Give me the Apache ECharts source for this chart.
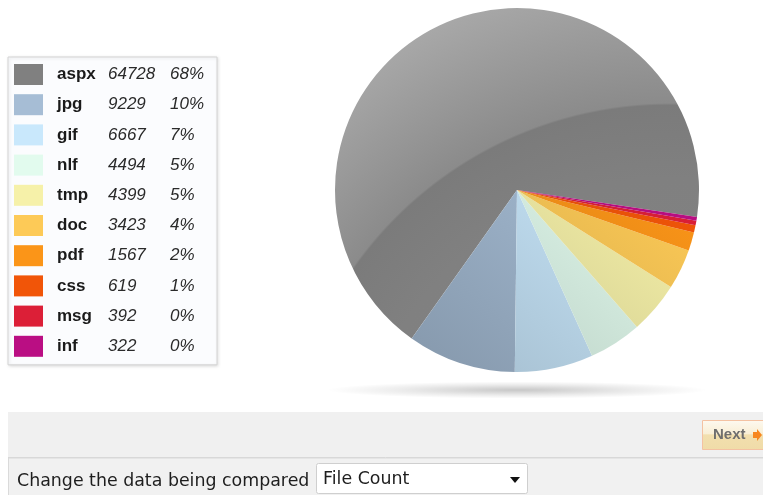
<!DOCTYPE html>
<html>
<head>
<meta charset="utf-8">
<script src="https://cdn.jsdelivr.net/npm/echarts@6/dist/echarts.min.js"></script>
<style>
  html, body { margin: 0; padding: 0; background: #ffffff; }
  #chart { width: 763px; height: 495px; }
</style>
</head>
<body>
<div id="chart"></div>
<script>
// File types and how many files of each type were found
const categories = ['aspx', 'jpg', 'gif', 'nlf', 'tmp', 'doc', 'pdf', 'css', 'msg', 'inf'];
const fileCounts = [64728, 9229, 6667, 4494, 4399, 3423, 1567, 619, 392, 322];
const sliceColors = ['#808080', '#a6bdd5', '#c9e8fc', '#e2fbee', '#f6f1a9', '#fdca57', '#fb9518', '#f15508', '#dc1f37', '#ba0e83'];

const total = fileCounts.reduce((a, b) => a + b, 0);
const CX = 517, CY = 190, R = 182;

function shade(hex, f) {
  const n = parseInt(hex.slice(1), 16);
  const r = (n >> 16) & 255, g = (n >> 8) & 255, b = n & 255;
  return 'rgb(' + Math.round(r * f) + ',' + Math.round(g * f) + ',' + Math.round(b * f) + ')';
}

// Glossy fill: the big slice gets a curved highlight band, the others darken toward the lower left
function sliceFill(i) {
  if (i === 0) {
    return {
      type: 'radial', x: CX + 152, y: CY + 300, r: 520, global: true,
      colorStops: [
        { offset: 0, color: '#848484' },
        { offset: 0.6, color: '#808080' },
        { offset: 0.740, color: '#7b7b7b' },
        { offset: 0.744, color: '#8b8b8b' },
        { offset: 1, color: '#a8a8a8' }
      ]
    };
  }
  const c = sliceColors[i];
  return {
    type: 'linear', x: CX + 123, y: CY - 40, x2: CX - 67, y2: CY + R, global: true,
    colorStops: [{ offset: 0, color: c }, { offset: 1, color: shade(c, 0.82) }]
  };
}

const chart = echarts.init(document.getElementById('chart'), null, { renderer: 'canvas' });

const legendFont = '"Liberation Sans", Arial, sans-serif';
const uiFont = '"DejaVu Sans", Verdana, sans-serif';

chart.setOption({
  animation: false,
  backgroundColor: '#ffffff',
  legend: {
    orient: 'vertical',
    left: 8,
    top: 57,
    padding: [7, 13, 8, 6],
    itemWidth: 29,
    itemHeight: 21,
    itemGap: 9.2,
    icon: 'rect',
    selectedMode: false,
    backgroundColor: '#fbfcfe',
    borderColor: '#d4d4d4',
    borderWidth: 1,
    shadowBlur: 3,
    shadowColor: 'rgba(0,0,0,0.12)',
    shadowOffsetX: 1,
    shadowOffsetY: 1,
    data: categories.map((n, i) => ({ name: n, itemStyle: { color: sliceColors[i], borderWidth: 0 } })),
    formatter: function (name) {
      const i = categories.indexOf(name);
      const pct = Math.round(fileCounts[i] / total * 100);
      return '{n|' + name + '}{v|' + fileCounts[i] + '}{p|' + pct + '%}';
    },
    textStyle: {
      fontFamily: legendFont,
      fontSize: 17,
      color: '#222222',
      rich: {
        n: { fontFamily: legendFont, fontSize: 17, fontWeight: 'bold', color: '#1a1a1a', width: 51, padding: [0, 0, 0, 9] },
        v: { fontFamily: legendFont, fontSize: 17, fontStyle: 'italic', color: '#2a2a2a', width: 62 },
        p: { fontFamily: legendFont, fontSize: 17, fontStyle: 'italic', color: '#2a2a2a', width: 35 }
      }
    }
  },
  graphic: [
    // soft shadow under the pie
    {
      type: 'circle', silent: true, z: 0,
      x: CX, y: CY + R + 18, scaleY: 0.045,
      shape: { cx: 0, cy: 0, r: 190 },
      style: {
        fill: {
          type: 'radial', x: 0.5, y: 0.5, r: 0.5,
          colorStops: [
            { offset: 0, color: 'rgba(0,0,0,0.22)' },
            { offset: 0.6, color: 'rgba(0,0,0,0.08)' },
            { offset: 1, color: 'rgba(0,0,0,0)' }
          ]
        }
      }
    },
    // navigation band
    { type: 'rect', silent: true, shape: { x: 8, y: 412, width: 760, height: 45 }, style: { fill: '#f0f0f0' } },
    { type: 'line', silent: true, shape: { x1: 8, y1: 457.5, x2: 763, y2: 457.5 }, style: { stroke: '#d6d6d6', lineWidth: 1 } },
    // Next button
    {
      type: 'rect', silent: true,
      shape: { x: 702.5, y: 420.5, width: 70, height: 29 },
      style: {
        fill: {
          type: 'linear', x: 0, y: 0, x2: 0, y2: 1,
          colorStops: [
            { offset: 0, color: '#fdf9f0' },
            { offset: 0.45, color: '#f9efd6' },
            { offset: 0.5, color: '#f2dfae' },
            { offset: 1, color: '#f0dca8' }
          ]
        },
        stroke: '#f4c2a2', lineWidth: 1
      }
    },
    {
      type: 'text', silent: true, x: 713, y: 435,
      style: { text: 'Next', fill: '#6e6e6e', font: 'bold 15px ' + legendFont, textVerticalAlign: 'middle' }
    },
    {
      type: 'polygon', silent: true,
      shape: { points: [[753, 432], [757, 432], [757, 429], [762, 435], [757, 441], [757, 438], [753, 438]] },
      style: { fill: '#f7871f' }
    },
    // data selector row
    { type: 'rect', silent: true, shape: { x: 8.5, y: 458, width: 760, height: 40 }, style: { fill: '#f1f1f1', stroke: '#dadada', lineWidth: 1 } },
    {
      type: 'text', silent: true, x: 17, y: 481,
      style: { text: 'Change the data being compared', fill: '#1e1e1e', font: '17.4px ' + uiFont, textVerticalAlign: 'middle' }
    },
    {
      type: 'rect', silent: true,
      shape: { x: 316.5, y: 463.5, width: 211, height: 30, r: 2 },
      style: { fill: '#ffffff', stroke: '#cfcfcf', lineWidth: 1 }
    },
    {
      type: 'text', silent: true, x: 323, y: 479,
      style: { text: 'File Count', fill: '#1e1e1e', font: '17.4px ' + uiFont, textVerticalAlign: 'middle' }
    },
    {
      type: 'polygon', silent: true,
      shape: { points: [[510, 477], [520, 477], [515, 483]] },
      style: { fill: '#111111' }
    }
  ],
  series: [
    {
      type: 'pie',
      center: [CX, CY],
      radius: R,
      startAngle: 351.5,
      clockwise: false,
      silent: true,
      label: { show: false },
      labelLine: { show: false },
      emphasis: { disabled: true },
      itemStyle: { borderWidth: 0 },
      data: categories.map((n, i) => ({ name: n, value: fileCounts[i], itemStyle: { color: sliceFill(i) } }))
    }
  ]
});
</script>
</body>
</html>
